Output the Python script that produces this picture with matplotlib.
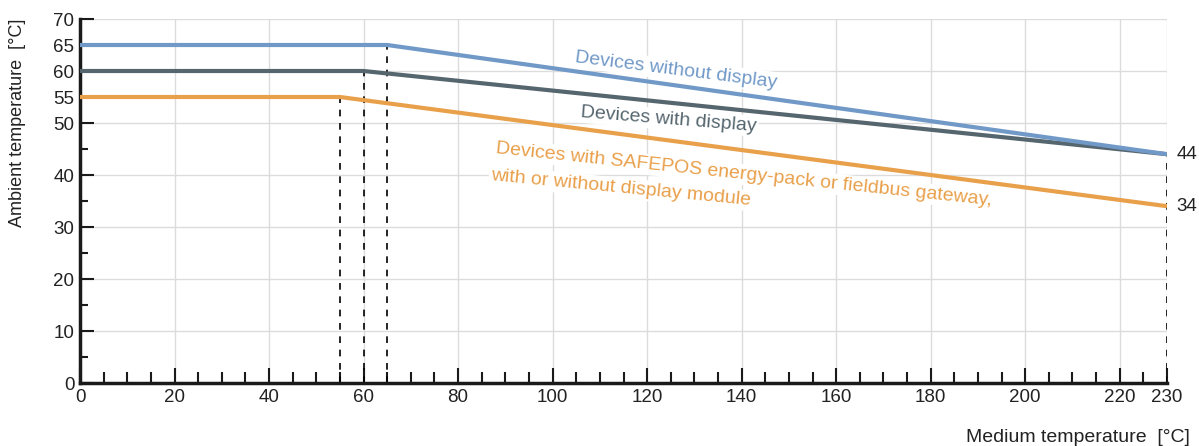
import matplotlib
matplotlib.use("Agg")
import matplotlib.pyplot as plt
import numpy as np

plt.rcParams['font.family'] = ['Liberation Sans', 'DejaVu Sans']

# Data
medium_without = [0, 65, 230]
ambient_without = [65, 65, 44]
medium_with = [0, 60, 230]
ambient_with = [60, 60, 44]
medium_safepos = [0, 55, 230]
ambient_safepos = [55, 55, 34]

x_ticks = [0, 20, 40, 60, 80, 100, 120, 140, 160, 180, 200, 220, 230]
y_ticks = [0, 10, 20, 30, 40, 50, 60, 70]
y_minor = [5, 15, 25, 35, 45, 55, 65]
y_minor_labels = ['', '', '', '', '', '55', '65']

c_blue = '#7199c8'
c_gray = '#56666f'
c_orange = '#e9a04b'

fig = plt.figure(figsize=(11.99, 4.46), dpi=100)
ax = fig.add_axes([80/1199, (446-383)/446, (1167-80)/1199, (383-19)/446])
ax.set_xlim(0, 230)
ax.set_ylim(0, 70)

# grid
ax.set_xticks(x_ticks)
ax.set_yticks(y_ticks)
ax.set_xticks(np.arange(0, 231, 5), minor=True)
ax.set_yticks(y_minor, minor=True)
ax.set_yticklabels(y_minor_labels, minor=True)
ax.grid(True, which='major', color='#dcdcdc', linewidth=1.0, zorder=0)
ax.set_axisbelow(True)

# dashed verticals
for xs, ys in [(medium_without, ambient_without), (medium_with, ambient_with), (medium_safepos, ambient_safepos)]:
    ax.plot([xs[1], xs[1]], [0, ys[1]], color='black', lw=1.2, ls=(0, (4, 4)), zorder=2)
ax.plot([medium_with[2], medium_with[2]], [0, ambient_with[2]], color='black', lw=1.2, ls=(0, (4, 4)), zorder=2)

ax.plot(medium_safepos, ambient_safepos, color=c_orange, lw=3, zorder=3, solid_capstyle='butt')
ax.plot(medium_with, ambient_with, color=c_gray, lw=3, zorder=3, solid_capstyle='butt')
ax.plot(medium_without, ambient_without, color=c_blue, lw=3, zorder=4, solid_capstyle='butt')

for s in ['top', 'right']:
    ax.spines[s].set_visible(False)
for s in ['left', 'bottom']:
    ax.spines[s].set_linewidth(2.5)
    ax.spines[s].set_color('#1a1a1a')

ax.tick_params(axis='both', which='both', direction='in', colors='#1a1a1a', labelcolor='#222222', labelsize=13.5)
ax.tick_params(axis='y', which='major', length=10, width=1.5, pad=4)
ax.tick_params(axis='y', which='minor', length=6, width=1.5, pad=4)
ax.tick_params(axis='x', which='major', length=11, width=1.5, pad=4)
ax.tick_params(axis='x', which='minor', length=8, width=1.5, pad=4)

bb = dict(boxstyle='square,pad=0.1', fc='white', ec='none')
fs = 14
ax.text(104.7, 61.8, 'Devices without display', color=c_blue, fontsize=fs,
        rotation=-7.2, rotation_mode='anchor', ha='left', va='baseline', zorder=5, bbox=bb)
ax.text(105.8, 51.2, 'Devices with display', color=c_gray, fontsize=fs,
        rotation=-4.6, rotation_mode='anchor', ha='left', va='baseline', zorder=5, bbox=bb)
ax.text(88.0, 44.2, 'Devices with SAFEPOS energy-pack or fieldbus gateway,', color=c_orange, fontsize=fs,
        rotation=-6.0, rotation_mode='anchor', ha='left', va='baseline', zorder=5, bbox=bb)
ax.text(86.8, 39.0, 'with or without display module', color=c_orange, fontsize=fs,
        rotation=-5.5, rotation_mode='anchor', ha='left', va='baseline', zorder=5, bbox=bb)

ax.text(1.009, ambient_with[2], '44', transform=ax.get_yaxis_transform(), fontsize=13.5,
        color='#222222', ha='left', va='center')
ax.text(1.009, ambient_safepos[2], '34', transform=ax.get_yaxis_transform(), fontsize=13.5,
        color='#222222', ha='left', va='center')

fig.text(18/1199, 1 - 123/446, 'Ambient temperature  [°C]', rotation=90, fontsize=13,
         color='#222222', ha='center', va='center')
fig.text(1190/1199, 1 - 437/446, 'Medium temperature  [°C]', fontsize=14,
         color='#222222', ha='right', va='center')

fig.savefig('out.png', dpi=100)
